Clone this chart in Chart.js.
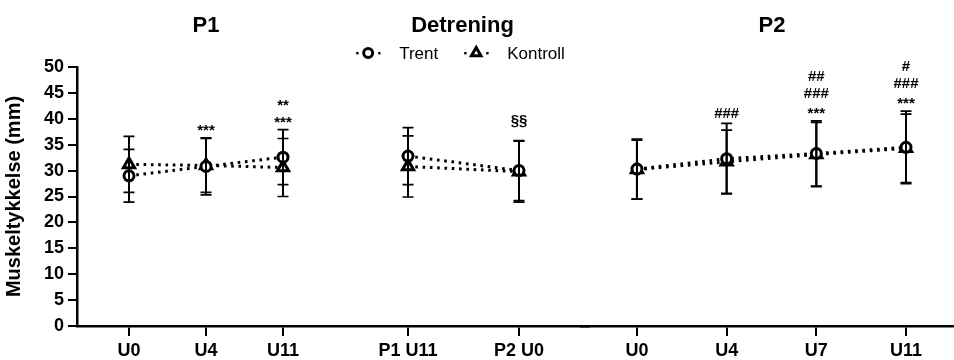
<!DOCTYPE html>
<html>
<head>
<meta charset="utf-8">
<script src="https://cdn.jsdelivr.net/npm/chart.js@4.4.1/dist/chart.umd.min.js"></script>
<style>
  html, body { margin: 0; padding: 0; background: #fff; }
  #wrap { position: relative; width: 954px; height: 360px; }
  #wrap canvas { position: absolute; top: 0; }
</style>
</head>
<body>
<div id="wrap">
  <canvas id="c-p1" width="335" height="360" style="left:0"></canvas>
  <canvas id="c-det" width="255" height="360" style="left:335px"></canvas>
  <canvas id="c-p2" width="374" height="360" style="left:580px"></canvas>
</div>
<script>
// P1
const p1Labels = ['U0', 'U4', 'U11'];
const p1Trent = [29.0, 30.8, 32.6];
const p1TrentSd = [5.1, 5.5, 5.3];
const p1Kontroll = [31.2, 31.0, 30.6];
const p1KontrollSd = [5.4, 5.2, 5.6];
const p1Marks = [[], ['***'], ['**', '***']];

// Detrening
const detLabels = ['P1 U11', 'P2 U0'];
const detTrent = [32.8, 30.0];
const detTrentSd = [5.5, 5.8];
const detKontroll = [30.8, 29.8];
const detKontrollSd = [5.9, 5.9];
const detMarks = [[], ['§§']];

// P2
const p2Labels = ['U0', 'U4', 'U7', 'U11'];
const p2Trent = [30.3, 32.3, 33.3, 34.5];
const p2TrentSd = [5.8, 6.8, 6.3, 7.0];
const p2Kontroll = [30.2, 31.7, 33.1, 34.3];
const p2KontrollSd = [5.7, 6.1, 6.2, 6.6];
const p2Marks = [[], ['###'], ['##', '###', '***'], ['#', '###', '***']];

const FONT = '"Liberation Sans", Arial, Helvetica, sans-serif';

function drawMarker(ctx, style, x, y, r) {
  ctx.beginPath();
  if (style === 'triangle') {
    let a = 0;
    ctx.moveTo(x + Math.sin(a) * r, y - Math.cos(a) * r);
    a += Math.PI * 2 / 3;
    ctx.lineTo(x + Math.sin(a) * r, y - Math.cos(a) * r);
    a += Math.PI * 2 / 3;
    ctx.lineTo(x + Math.sin(a) * r, y - Math.cos(a) * r);
    ctx.closePath();
  } else {
    ctx.arc(x, y, r, 0, Math.PI * 2);
  }
  ctx.fill();
  ctx.stroke();
}

// mean +/- SD whiskers, drawn over the markers
const errorBars = {
  id: 'errorBars',
  afterDatasetsDraw(chart) {
    const ctx = chart.ctx, y = chart.scales.y;
    ctx.save();
    ctx.strokeStyle = '#000';
    chart.data.datasets.forEach((ds, i) => {
      chart.getDatasetMeta(i).data.forEach((pt, j) => {
        const top = y.getPixelForValue(ds.data[j].y + ds.sd[j]);
        const bot = y.getPixelForValue(ds.data[j].y - ds.sd[j]);
        ctx.lineWidth = 2;
        ctx.beginPath();
        ctx.moveTo(pt.x, top);
        ctx.lineTo(pt.x, bot);
        ctx.stroke();
        ctx.lineWidth = 1.7;
        ctx.beginPath();
        ctx.moveTo(pt.x - 5.5, top); ctx.lineTo(pt.x + 5.5, top);
        ctx.moveTo(pt.x - 5.5, bot); ctx.lineTo(pt.x + 5.5, bot);
        ctx.stroke();
      });
    });
    ctx.restore();
  }
};

// significance symbols stacked above the highest whisker
const sigMarks = {
  id: 'sigMarks',
  afterDatasetsDraw(chart, args, opts) {
    const ctx = chart.ctx, x = chart.scales.x, y = chart.scales.y;
    ctx.save();
    ctx.fillStyle = '#000';
    ctx.font = 'bold 15px ' + FONT;
    ctx.textAlign = 'center';
    ctx.textBaseline = 'middle';
    (opts.marks || []).forEach((lines, j) => {
      const high = Math.max(...chart.data.datasets.map(ds => ds.data[j].y + ds.sd[j]));
      let cy = y.getPixelForValue(high) - (lines[lines.length - 1] === '§§' ? 20 : 10);
      lines.slice().reverse().forEach(t => {
        ctx.fillText(t, x.getPixelForValue(j), t[0] === '*' ? cy + 3 : cy);
        cy -= 17;
      });
    });
    ctx.restore();
  }
};

// panel title, plus the legend row under the middle title
const panelHeader = {
  id: 'panelHeader',
  afterDraw(chart, args, opts) {
    const ctx = chart.ctx, area = chart.chartArea;
    const cx = (area.left + area.right) / 2;
    ctx.save();
    ctx.fillStyle = '#000';
    ctx.strokeStyle = '#000';
    ctx.textAlign = 'center';
    ctx.textBaseline = 'middle';
    ctx.font = 'bold 22px ' + FONT;
    ctx.fillText(opts.title, cx + (opts.shift || 0), 26);
    if (opts.legend) {
      ctx.font = '17px ' + FONT;
      ctx.textAlign = 'left';
      const items = chart.data.datasets.map(ds => ({ ds, w: 43 + ctx.measureText(ds.label).width }));
      const total = items.reduce((s, it) => s + it.w, 0) + 26 * (items.length - 1);
      let lx = cx - total / 2 - 2;
      const my = 53;
      items.forEach(it => {
        const mx = lx + 12;
        ctx.fillRect(mx - 12, my - 1, 2.4, 2.4);
        ctx.fillRect(mx + 10, my - 1, 2.4, 2.4);
        ctx.fillStyle = '#fff';
        ctx.lineWidth = 3;
        drawMarker(ctx, it.ds.pointStyle, mx, my, it.ds.pointStyle === 'triangle' ? 5.5 : 4.5);
        ctx.fillStyle = '#000';
        ctx.fillText(it.ds.label, lx + 43, my + 1);
        lx += it.w + 26;
      });
    }
    ctx.restore();
  }
};

function series(label, values, sd, style, radius) {
  return {
    label: label,
    data: values.map((v, i) => ({ x: i, y: v })),
    sd: sd,
    borderColor: '#000',
    borderWidth: 3,
    borderDash: [2.6, 4.7],
    borderCapStyle: 'butt',
    pointStyle: style,
    pointRadius: radius,
    pointBorderWidth: 3,
    pointBackgroundColor: '#fff',
    pointBorderColor: '#000',
    fill: false
  };
}

function panel(id, labels, trent, trentSd, kontroll, kontrollSd, marks, header, xMin, xMax, showY) {
  const tickFont = { family: FONT, size: 18, weight: 'bold' };
  const yAxis = showY ? {
    min: 0, max: 50,
    ticks: { stepSize: 5, color: '#000', font: tickFont, padding: 4 },
    grid: { drawOnChartArea: false, drawTicks: true, tickLength: 9, color: '#000', lineWidth: 2 },
    border: { display: true, color: '#000', width: 2.5 },
    title: {
      display: true, text: 'Muskeltykkelse (mm)', color: '#000',
      font: { family: FONT, size: 20, weight: 'bold' }, padding: { top: 2, bottom: 0 }
    },
    afterFit: s => { s.width = 77; }
  } : { display: false, min: 0, max: 50 };

  return new Chart(document.getElementById(id), {
    type: 'line',
    data: {
      datasets: [
        series('Trent', trent, trentSd, 'circle', 5),
        series('Kontroll', kontroll, kontrollSd, 'triangle', 6.5)
      ]
    },
    options: {
      responsive: false,
      animation: false,
      layout: { autoPadding: false, padding: { top: 67, left: 0, right: 0, bottom: 0 } },
      scales: {
        x: {
          type: 'linear', min: xMin, max: xMax,
          afterBuildTicks: s => { s.ticks = labels.map((_, i) => ({ value: i })); },
          ticks: { autoSkip: false, maxRotation: 0, color: '#000', font: tickFont, padding: 4, callback: v => labels[v] },
          grid: { drawOnChartArea: false, drawTicks: true, tickLength: 10, color: '#000', lineWidth: 2 },
          border: { display: true, color: '#000', width: 2.5 },
          afterFit: s => { s.height = 34; }
        },
        y: yAxis
      },
      plugins: {
        legend: { display: false },
        tooltip: { enabled: false },
        panelHeader: header,
        sigMarks: { marks: marks }
      }
    },
    plugins: [errorBars, sigMarks, panelHeader]
  });
}

panel('c-p1', p1Labels, p1Trent, p1TrentSd, p1Kontroll, p1KontrollSd, p1Marks, { title: 'P1' }, -0.675, 2.675, true);
panel('c-det', detLabels, detTrent, detTrentSd, detKontroll, detKontrollSd, detMarks, { title: 'Detrening', legend: true }, -0.658, 1.64, false);
panel('c-p2', p2Labels, p2Trent, p2TrentSd, p2Kontroll, p2KontrollSd, p2Marks, { title: 'P2', shift: 5 }, -0.635, 3.535, false);
</script>
</body>
</html>
